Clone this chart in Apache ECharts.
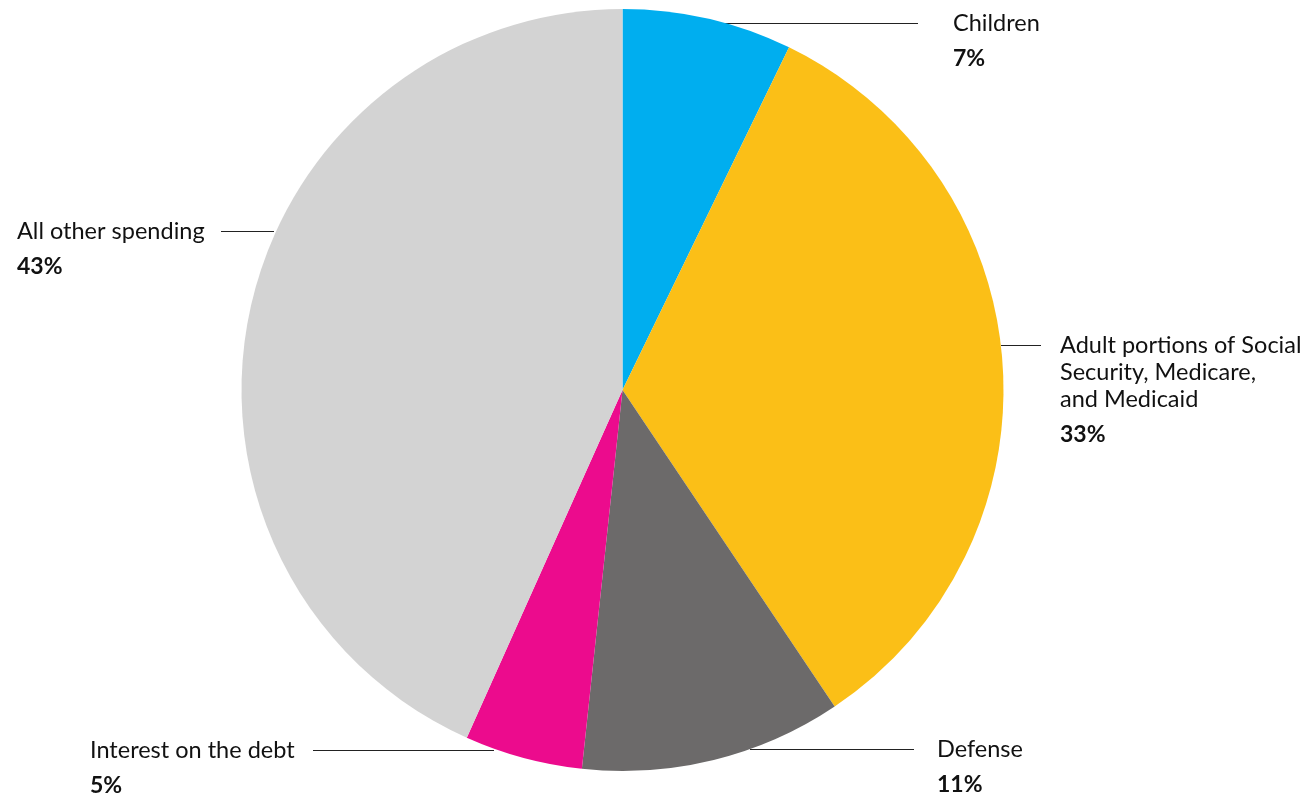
<!DOCTYPE html>
<html>
<head>
<meta charset="utf-8">
<script src="https://cdn.jsdelivr.net/npm/echarts@6/dist/echarts.min.js"></script>
<style>
html,body{margin:0;padding:0;background:#fff;}
#chart{width:1306px;height:796px;}
</style>
</head>
<body>
<div id="chart"></div>
<script>
const categories = [
  'Children',
  'Adult portions of Social\nSecurity, Medicare,\nand Medicaid',
  'Defense',
  'Interest on the debt',
  'All other spending'
];
const shares = [7.2, 33.4, 11.1, 5.0, 43.3];
const colors = ['#00AEEF', '#FBBF17', '#6C6A6A', '#EC0B8D', '#D3D3D3'];

// label anchors: [textLeftX, first line center Y, lineFromX, lineToX]
const labelPos = [
  [953, 23, 721, 918],
  [1060, 345, 1001, 1041],
  [937, 749, 750, 914],
  [90, 750, 313, 494],
  [17, 231, 221, 274]
];

const chart = echarts.init(document.getElementById('chart'), null, {renderer: 'canvas'});
chart.setOption({
  animation: false,
  backgroundColor: '#fff',
  series: [{
    type: 'pie',
    center: [622.5, 390],
    radius: 381,
    startAngle: 90,
    clockwise: true,
    silent: true,
    avoidLabelOverlap: false,
    itemStyle: {borderWidth: 0},
    emphasis: {disabled: true},
    data: categories.map((c, i) => ({name: c, value: shares[i], itemStyle: {color: colors[i]}})),
    label: {
      show: true,
      position: 'outside',
      fontFamily: 'Lato',
      color: '#111',
      formatter: p => '{n|' + p.name + '}\n{p|' + Math.round(p.percent) + '%}',
      rich: {
        n: {fontFamily: 'Lato', fontSize: 23.5, lineHeight: 27, color: '#111'},
        p: {fontFamily: 'Lato', fontSize: 23, fontWeight: 'bold', lineHeight: 45, color: '#111'}
      }
    },
    labelLine: {show: true, lineStyle: {color: '#222', width: 1}},
    labelLayout: function (params) {
      const lp = labelPos[params.dataIndex];
      const y = lp[1] + 0.5;
      return {
        x: lp[0],
        y: lp[1] - 13.5,
        align: 'left',
        verticalAlign: 'top',
        labelLinePoints: [[lp[2], y], [lp[3], y], [lp[3], y]]
      };
    }
  }]
});
</script>
</body>
</html>
